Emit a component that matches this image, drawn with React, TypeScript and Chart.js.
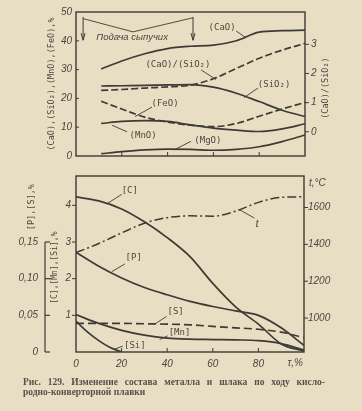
import React, { useEffect, useRef } from "react";
import { Chart, registerables } from "chart.js";
Chart.register(...registerables);

// ---------- data: slag (upper panel) ----------
const slagTau = [11, 20, 30, 40, 50, 60, 70, 80, 90, 100];
const slagCaO = [30.2, 33, 35.5, 37.3, 38.1, 38.5, 40, 43, 43.5, 43.7];
const slagBasicity = [1.42, 1.45, 1.5, 1.54, 1.6, 1.82, 2.17, 2.52, 2.8, 3.03];
const slagSiO2 = [24.3, 24.4, 24.5, 24.7, 24.8, 23.9, 21.8, 18.9, 15.9, 13.7];
const slagFeO = [19, 16.3, 13.5, 11.8, 10.7, 10.2, 11.3, 13.8, 16.3, 18.6];
const slagMnO = [11.3, 12, 12.3, 12, 10.8, 9.7, 9, 8.5, 9.4, 11.2];
const slagMgO = [0.8, 1.5, 2.1, 2.4, 2.3, 2.0, 2.3, 3.2, 5, 7.3];

// ---------- data: metal (lower panel) ----------
const metalTau = [0, 10, 20, 30, 40, 50, 60, 70, 80, 90, 100];
const metalC = [4.23, 4.12, 3.9, 3.55, 3.12, 2.6, 1.87, 1.23, 0.76, 0.22, 0.02];
const metalP = [0.136, 0.117, 0.101, 0.088, 0.078, 0.069, 0.062, 0.056, 0.05, 0.033, 0.009];
const metalS = [0.039, 0.039, 0.039, 0.0385, 0.038, 0.037, 0.035, 0.033, 0.031, 0.027, 0.0195];
const metalMn = [1.02, 0.78, 0.59, 0.46, 0.38, 0.35, 0.34, 0.33, 0.31, 0.23, 0.05];
const metalTemp = [1355, 1405, 1462, 1515, 1545, 1555, 1553, 1580, 1628, 1655, 1658];
const siTau = [0, 5, 10, 15, 20];
const metalSi = [0.84, 0.55, 0.31, 0.12, 0];

// ---------- tick labels ----------
const psTickLabels = ["0", "0,05", "0,10", "0,15"];
const xTickValues = [0, 20, 40, 60, 80];

const INK = "#3d3b36";
const TXT = "#4a4740";
const BG = "#e8dec3";
const TICKFONT = { family: "Liberation Sans", size: 10, style: "italic" as const };
const MONO = '9px "DejaVu Sans Mono"';
const NOGRID = { display: false, drawTicks: false, tickLength: 0 };

const xy = (xs: number[], ys: number[]) => xs.map((x, i) => ({ x, y: ys[i] }));

function line(data: any, axis: string, dash: number[] = [], width = 1.7) {
  return {
    data,
    yAxisID: axis,
    borderColor: INK,
    borderWidth: width,
    borderDash: dash,
    pointRadius: 0,
    fill: false,
    cubicInterpolationMode: "monotone" as const,
  };
}

function txt(ctx: any, s: string, x: number, y: number, font = MONO, align = "center") {
  ctx.font = font;
  ctx.textAlign = align;
  ctx.textBaseline = "middle";
  ctx.fillStyle = TXT;
  ctx.fillText(s, x, y);
}
function vtxt(ctx: any, s: string, x: number, y: number, font: string) {
  ctx.save();
  ctx.translate(x, y);
  ctx.rotate(-Math.PI / 2);
  txt(ctx, s, 0, 0, font);
  ctx.restore();
}
function seg(ctx: any, x1: number, y1: number, x2: number, y2: number, w = 0.9) {
  ctx.lineWidth = w;
  ctx.strokeStyle = INK;
  ctx.beginPath();
  ctx.moveTo(x1, y1);
  ctx.lineTo(x2, y2);
  ctx.stroke();
}

const topDecor = {
  id: "topDecor",
  afterDatasetsDraw(chart: any) {
    const { ctx, chartArea: a, scales } = chart;
    const X = (v: number) => scales.x.getPixelForValue(v);
    const L = (v: number) => scales.yL.getPixelForValue(v);
    const R = (v: number) => scales.yR.getPixelForValue(v);
    ctx.save();
    ctx.setLineDash([]);
    ctx.strokeStyle = INK;
    ctx.lineWidth = 1.4;
    ctx.strokeRect(a.left, a.top, a.right - a.left, a.bottom - a.top);
    for (const v of [20, 40, 60, 80]) seg(ctx, X(v), a.bottom, X(v), a.bottom - 4, 1);
    for (const v of [10, 20, 30, 40]) seg(ctx, a.left, L(v), a.left + 3, L(v), 1);
    for (const v of [0, 1, 2, 3]) seg(ctx, a.right, R(v), a.right + 4, R(v), 1);

    // series labels with leaders
    const labels = [
      { t: "(CaO)", x: 63.8, y: 44.7, l: [69.9, 43.4, 74.2, 41.1] },
      { t: "(CaO)/(SiO₂)", x: 44.5, y: 31.8, l: [54.6, 29.9, 61.1, 26.6] },
      { t: "(SiO₂)", x: 86.5, y: 24.6, l: [79.5, 23.6, 73.4, 20.3] },
      { t: "(FeO)", x: 38.9, y: 18.3, l: [33.2, 17, 25.8, 13.7] },
      { t: "(MnO)", x: 29.3, y: 7.1, l: [22.3, 8.4, 15.7, 10.7] },
      { t: "(MgO)", x: 57.6, y: 5.4, l: [50.2, 5.1, 42.8, 2.1] },
    ];
    for (const lb of labels) {
      txt(ctx, lb.t, X(lb.x), L(lb.y));
      seg(ctx, X(lb.l[0]), L(lb.l[1]), X(lb.l[2]), L(lb.l[3]));
    }

    // "Подача сыпучих" annotation
    ctx.lineWidth = 0.9;
    ctx.beginPath();
    ctx.moveTo(X(3.1), L(47.7));
    ctx.lineTo(X(24.9), L(43.1));
    ctx.lineTo(X(51.1), L(48));
    ctx.stroke();
    for (const v of [3.1, 51.1]) {
      const top = L(48.3), bot = L(40.2);
      seg(ctx, X(v), top, X(v), bot, 1);
      seg(ctx, X(v) - 2, bot - 7, X(v), bot, 1);
      seg(ctx, X(v) + 2, bot - 7, X(v), bot, 1);
    }
    txt(ctx, "Подача сыпучих", X(24.5), L(41.1), 'italic 9.5px "Liberation Sans"');

    // axis titles
    vtxt(ctx, "(CaO),(SiO₂),(MnO),(FeO),%", a.left - 24, L(25), '8.5px "DejaVu Sans Mono"');
    vtxt(ctx, "(CaO)/(SiO₂)", a.right + 21, R(1.5), '8.5px "DejaVu Sans Mono"');
    ctx.restore();
  },
};

const botDecor = {
  id: "botDecor",
  afterDatasetsDraw(chart: any) {
    const { ctx, chartArea: a, scales } = chart;
    const X = (v: number) => scales.x.getPixelForValue(v);
    const C = (v: number) => scales.yC.getPixelForValue(v);
    const P = (v: number) => scales.yP.getPixelForValue(v);
    const T = (v: number) => scales.yT.getPixelForValue(v);
    ctx.save();
    ctx.setLineDash([]);
    ctx.strokeStyle = INK;
    ctx.lineWidth = 1.4;
    ctx.strokeRect(a.left, a.top, a.right - a.left, a.bottom - a.top);
    for (const v of [20, 40, 60, 80]) seg(ctx, X(v), a.bottom, X(v), a.bottom - 4, 1);
    for (const v of [1, 2, 3, 4]) seg(ctx, a.left, C(v), a.left - 4, C(v), 1);
    for (const v of [1000, 1200, 1400, 1600]) seg(ctx, a.right, T(v), a.right + 4, T(v), 1);

    // [P],[S] bracket axis
    const bx = scales.yP.right;
    seg(ctx, bx, P(0.15), bx, P(0), 1.2);
    for (const v of [0, 0.05, 0.1, 0.15]) seg(ctx, bx, P(v), bx + 5, P(v), 1.2);

    const labels = [
      { t: "[C]", x: 23.6, y: 4.41, l: [20.1, 4.3, 13.5, 4.04] },
      { t: "[P]", x: 25.3, y: 2.58, l: [21.4, 2.4, 15.7, 2.19] },
      { t: "[S]", x: 43.7, y: 1.1, l: [39.7, 0.97, 34.5, 0.76] },
      { t: "[Mn]", x: 45.4, y: 0.52, l: [40.2, 0.44, 36.7, 0.34] },
      { t: "[Si]", x: 25.8, y: 0.18, l: [20.5, 0.16, 17, 0.08] },
    ];
    for (const lb of labels) {
      txt(ctx, lb.t, X(lb.x), C(lb.y));
      seg(ctx, X(lb.l[0]), C(lb.l[1]), X(lb.l[2]), C(lb.l[3]));
    }
    txt(ctx, "t", X(79.5), T(1511), 'italic 12px "Liberation Serif"');
    seg(ctx, X(78.2), T(1543), X(71.6), T(1589));

    txt(ctx, "t,°C", a.right + 5, a.top + 7, 'italic 10px "Liberation Sans"', "left");
    txt(ctx, "τ,%", a.right - 1, a.bottom + 11, 'italic 10px "Liberation Sans"', "right");

    vtxt(ctx, "[C],[Mn],[Si],%", a.left - 21, C(2.3), '8px "DejaVu Sans Mono"');
    vtxt(ctx, "[P],[S],%", a.left - 44, C(3.95), '8.5px "DejaVu Sans Mono"');
    ctx.restore();
  },
};

export default function App() {
  const topRef = useRef<HTMLCanvasElement>(null);
  const botRef = useRef<HTMLCanvasElement>(null);

  useEffect(() => {
    const common = {
      responsive: false,
      animation: false as const,
      events: [] as any[],
      plugins: { legend: { display: false }, tooltip: { enabled: false } },
    };
    const top = new Chart(topRef.current!, {
      type: "line",
      data: {
        datasets: [
          line(xy(slagTau, slagCaO), "yL"),
          line(xy(slagTau, slagBasicity), "yR", [7, 3]),
          line(xy(slagTau, slagSiO2), "yL"),
          line(xy(slagTau, slagFeO), "yL", [7, 3]),
          line(xy(slagTau, slagMnO), "yL"),
          line(xy(slagTau, slagMgO), "yL"),
        ] as any,
      },
      options: {
        ...common,
        layout: { padding: { top: 7, bottom: 9.5, left: 0, right: 0 } },
        scales: {
          x: { type: "linear", min: 0, max: 100, display: false },
          yL: {
            position: "left",
            min: 0,
            max: 50,
            grid: NOGRID,
            border: { display: false },
            ticks: { stepSize: 10, font: TICKFONT, color: TXT, padding: 4 },
            afterFit: (s: any) => { s.width = 76; },
          },
          yR: {
            position: "right",
            min: -0.83,
            max: 4.108,
            grid: NOGRID,
            border: { display: false },
            ticks: {
              stepSize: 1,
              font: TICKFONT,
              color: TXT,
              padding: 6,
              callback: (v: any) => (Number.isInteger(v) && v >= 0 && v <= 3 ? String(v) : null),
            },
            afterFit: (s: any) => { s.width = 57; },
          },
        } as any,
      },
      plugins: [topDecor],
    });

    const bot = new Chart(botRef.current!, {
      type: "line",
      data: {
        datasets: [
          line(xy(metalTau, metalC), "yC"),
          line(xy(metalTau, metalP), "yP"),
          line(xy(metalTau, metalS), "yP", [8, 4]),
          line(xy(metalTau, metalMn), "yC"),
          line(xy(siTau, metalSi), "yC"),
          line(xy(metalTau, metalTemp), "yT", [9, 3, 2, 3], 1.5),
        ] as any,
      },
      options: {
        ...common,
        layout: { padding: { top: 5, bottom: 0, left: 0, right: 0 } },
        scales: {
          x: {
            type: "linear",
            min: 0,
            max: 100,
            grid: NOGRID,
            border: { display: false },
            ticks: {
              stepSize: 20,
              font: TICKFONT,
              color: TXT,
              padding: 6,
              maxRotation: 0,
              callback: (v: any) => (xTickValues.includes(v) ? String(v) : null),
            },
            afterFit: (s: any) => { s.height = 21; },
          },
          yC: {
            position: "left",
            weight: 0,
            min: 0,
            max: 4.8,
            grid: NOGRID,
            border: { display: false },
            ticks: {
              stepSize: 1,
              font: TICKFONT,
              color: TXT,
              padding: 5,
              callback: (v: any) => (Number.isInteger(v) && v >= 1 && v <= 4 ? String(v) : null),
            },
            afterFit: (s: any) => { s.width = 31; },
          },
          yP: {
            position: "left",
            weight: 1,
            min: 0,
            max: 0.24,
            grid: NOGRID,
            border: { display: false },
            ticks: {
              stepSize: 0.05,
              font: TICKFONT,
              color: TXT,
              padding: 7,
              callback: (v: any) => {
                const i = Math.round(v / 0.05);
                return Math.abs(v - i * 0.05) < 1e-6 && i >= 0 && i < psTickLabels.length ? psTickLabels[i] : null;
              },
            },
            afterFit: (s: any) => { s.width = 45; },
          },
          yT: {
            position: "right",
            min: 816,
            max: 1771,
            grid: NOGRID,
            border: { display: false },
            ticks: {
              stepSize: 200,
              font: TICKFONT,
              color: TXT,
              padding: 4,
              callback: (v: any) => (v % 200 === 0 && v >= 1000 ? String(v) : null),
            },
            afterFit: (s: any) => { s.width = 58; },
          },
        } as any,
      },
      plugins: [botDecor],
    });
    return () => {
      top.destroy();
      bot.destroy();
    };
  }, []);

  return (
    <div style={{ position: "fixed", left: 0, top: 0, width: 362, height: 411, background: BG, overflow: "hidden" }}>
      <canvas ref={topRef} width={362} height={168} style={{ position: "absolute", left: 0, top: 0 }} />
      <canvas ref={botRef} width={362} height={210} style={{ position: "absolute", left: 0, top: 163 }} />
      <div
        style={{
          position: "absolute",
          left: 23,
          top: 377,
          width: 302,
          font: 'bold 9.5px "Liberation Serif"',
          color: "#55514a",
          lineHeight: "10px",
        }}
      >
        <div style={{ textAlign: "justify", textAlignLast: "justify" as any }}>
          Рис. 129. Изменение состава металла и шлака по ходу кисло-
        </div>
        <div>родно-конверторной плавки</div>
      </div>
    </div>
  );
}
